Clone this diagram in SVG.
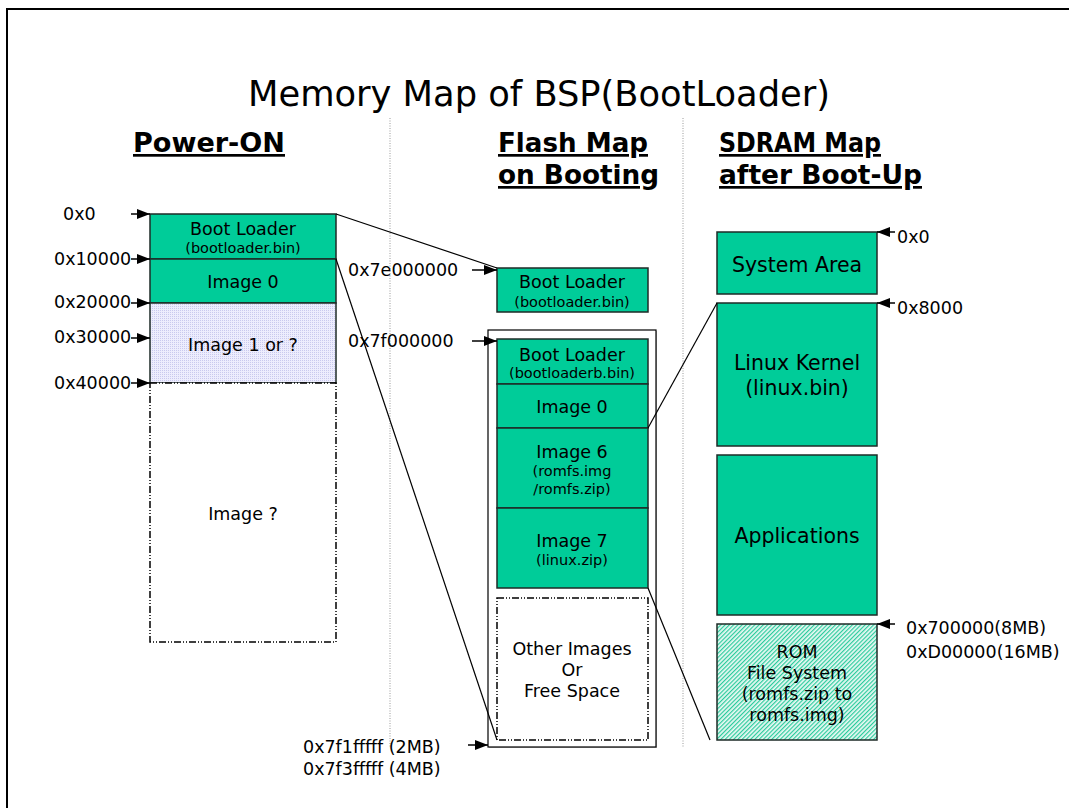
<svg xmlns="http://www.w3.org/2000/svg" width="1069" height="808" viewBox="0 0 1069 808">
<style>
text{font-family:"DejaVu Sans","Liberation Sans",sans-serif;fill:#000}
.t{font-size:17.5px;text-anchor:middle}
.s{font-size:14.5px;text-anchor:middle}
.b{font-size:20.5px;text-anchor:middle}
.a{font-size:17.5px}
.h{font-family:"DejaVu Sans Condensed","DejaVu Sans",sans-serif;font-stretch:condensed;font-weight:bold;font-size:27px;text-decoration:underline}
.box{fill:#00CC99;stroke:#1e2b27;stroke-width:1.5}
.line{stroke:#000;stroke-width:1.2;fill:none}
.sep{stroke:#999;stroke-width:1;stroke-dasharray:1 1.5}
.ar{stroke:#000;stroke-width:1.5;marker-end:url(#arr)}
</style>
<defs>
<marker id="arr" viewBox="0 0 13 10" refX="13" refY="5" markerWidth="13" markerHeight="10" markerUnits="userSpaceOnUse" orient="auto">
<path d="M0,0 L13,5 L0,10 z" fill="#000"/>
</marker>
<pattern id="dots" width="2" height="2" patternUnits="userSpaceOnUse">
<rect width="2" height="2" fill="#EDEDFD"/>
<rect width="1" height="1" fill="#C9C9EE"/>
</pattern>
<pattern id="hatch" width="3" height="3" patternUnits="userSpaceOnUse" patternTransform="rotate(-45)">
<rect width="3" height="3" fill="#EAF9F4"/>
<rect width="3" height="1.2" fill="#2ACB9C"/>
</pattern>
</defs>
<rect x="7" y="9" width="1070" height="810" fill="#fff" stroke="#000" stroke-width="2"/>
<text x="539" y="106" font-size="35" text-anchor="middle" textLength="582" lengthAdjust="spacingAndGlyphs" style="font-family:'DejaVu Sans Condensed','DejaVu Sans',sans-serif;font-stretch:condensed">Memory Map of BSP(BootLoader)</text>
<g id="headers">
<text class="h" x="133" y="152" textLength="152" lengthAdjust="spacingAndGlyphs">Power-ON</text>
<text class="h" x="498" y="152" textLength="150" lengthAdjust="spacingAndGlyphs">Flash Map</text>
<text class="h" x="498" y="184" textLength="161" lengthAdjust="spacingAndGlyphs">on Booting</text>
<text class="h" x="719" y="152" textLength="162" lengthAdjust="spacingAndGlyphs">SDRAM Map</text>
<text class="h" x="719" y="184" textLength="203" lengthAdjust="spacingAndGlyphs">after Boot-Up</text>
</g>
<g id="separators">
<line class="sep" x1="390" y1="118" x2="390" y2="748"/>
<line class="sep" x1="683" y1="118" x2="683" y2="748"/>
</g>
<g id="p-bootloader">
<rect class="box" x="150" y="214" width="186" height="45"/>
<text class="t" x="243" y="235">Boot Loader</text>
<text class="s" x="243" y="253">(bootloader.bin)</text>
</g>
<g id="p-image0">
<rect class="box" x="150" y="259" width="186" height="44"/>
<text class="t" x="243" y="288">Image 0</text>
</g>
<g id="p-image1">
<rect x="150" y="303" width="186" height="80" fill="url(#dots)" stroke="#1e2b27" stroke-width="1.5"/>
<text class="t" x="243" y="351">Image 1 or ?</text>
</g>
<g id="p-imageq">
<rect x="150" y="383" width="186" height="259" fill="#fff" stroke="#000" stroke-width="1.5" stroke-dasharray="7 2 1 2 1 2"/>
<text class="t" x="243" y="520">Image ?</text>
</g>
<g id="p-labels">
<text class="a" x="63" y="220">0x0</text>
<text class="a" x="54" y="265">0x10000</text>
<text class="a" x="54" y="308">0x20000</text>
<text class="a" x="54" y="343">0x30000</text>
<text class="a" x="54" y="389">0x40000</text>
</g>
<g id="f-bootloader">
<rect class="box" x="497" y="268" width="151" height="44"/>
<text class="t" x="572" y="288">Boot Loader</text>
<text class="s" x="572" y="307">(bootloader.bin)</text>
</g>
<g id="f-frame">
<rect x="489" y="331" width="168" height="417" fill="#bbb"/>
<rect x="488" y="330" width="168" height="417" fill="#fff" stroke="#000" stroke-width="1.2"/>
</g>
<g id="f-bootloaderb">
<rect class="box" x="497" y="339" width="151" height="45"/>
<text class="t" x="572" y="361">Boot Loader</text>
<text class="s" x="572" y="378">(bootloaderb.bin)</text>
</g>
<g id="f-image0">
<rect class="box" x="497" y="384" width="151" height="44"/>
<text class="t" x="572" y="413">Image 0</text>
</g>
<g id="f-image6">
<rect class="box" x="497" y="428" width="151" height="80"/>
<text class="t" x="572" y="458">Image 6</text>
<text class="s" x="572" y="476">(romfs.img</text>
<text class="s" x="572" y="494">/romfs.zip)</text>
</g>
<g id="f-image7">
<rect class="box" x="497" y="508" width="151" height="80"/>
<text class="t" x="572" y="547">Image 7</text>
<text class="s" x="572" y="565">(linux.zip)</text>
</g>
<g id="f-other">
<rect x="497" y="598" width="151" height="142" fill="#fff" stroke="#000" stroke-width="1.5" stroke-dasharray="7 2 1 2 1 2"/>
<text class="t" x="572" y="655">Other Images</text>
<text class="t" x="572" y="676">Or</text>
<text class="t" x="572" y="697">Free Space</text>
</g>
<g id="f-labels">
<text class="a" x="348" y="276">0x7e000000</text>
<text class="a" x="348" y="347">0x7f000000</text>
<text class="a" x="303" y="753">0x7f1fffff (2MB)</text>
<text class="a" x="303" y="775">0x7f3fffff (4MB)</text>
</g>
<g id="s-system">
<rect class="box" x="717" y="232" width="160" height="62"/>
<text class="b" x="797" y="272">System Area</text>
</g>
<g id="s-kernel">
<rect class="box" x="717" y="303" width="160" height="143"/>
<text class="b" x="797" y="370">Linux Kernel</text>
<text class="b" x="797" y="395">(linux.bin)</text>
</g>
<g id="s-apps">
<rect class="box" x="717" y="455" width="160" height="160"/>
<text class="b" x="797" y="543">Applications</text>
</g>
<g id="s-rom">
<rect x="717" y="624" width="160" height="116" fill="url(#hatch)" stroke="#1e2b27" stroke-width="1.5"/>
<text class="t" x="797" y="658">ROM</text>
<text class="t" x="797" y="679">File System</text>
<text class="t" x="797" y="700">(romfs.zip to</text>
<text class="t" x="797" y="721">romfs.img)</text>
</g>
<g id="s-labels">
<text class="a" x="897" y="243">0x0</text>
<text class="a" x="897" y="314">0x8000</text>
<text class="a" x="906" y="634">0x700000(8MB)</text>
<text class="a" x="906" y="658">0xD00000(16MB)</text>
</g>
<g id="connectors">
<line class="ar" x1="131" y1="214" x2="150" y2="214"/>
<line class="ar" x1="131" y1="259" x2="150" y2="259"/>
<line class="ar" x1="131" y1="303" x2="150" y2="303"/>
<line class="ar" x1="131" y1="338" x2="150" y2="338"/>
<line class="ar" x1="131" y1="383" x2="150" y2="383"/>
<line class="ar" x1="472" y1="270" x2="497" y2="270"/>
<line class="ar" x1="472" y1="341" x2="497" y2="341"/>
<line class="ar" x1="468" y1="745" x2="488" y2="745"/>
<line class="ar" x1="895" y1="232" x2="877" y2="232"/>
<line class="ar" x1="895" y1="303" x2="877" y2="303"/>
<line class="ar" x1="895" y1="624" x2="877" y2="624"/>
<line class="line" x1="336" y1="214" x2="497" y2="268"/>
<line class="line" x1="336" y1="259" x2="497" y2="740"/>
<line class="line" x1="648" y1="428" x2="717" y2="303"/>
<line class="line" x1="648" y1="588" x2="710" y2="740"/>
</g>
</svg>
